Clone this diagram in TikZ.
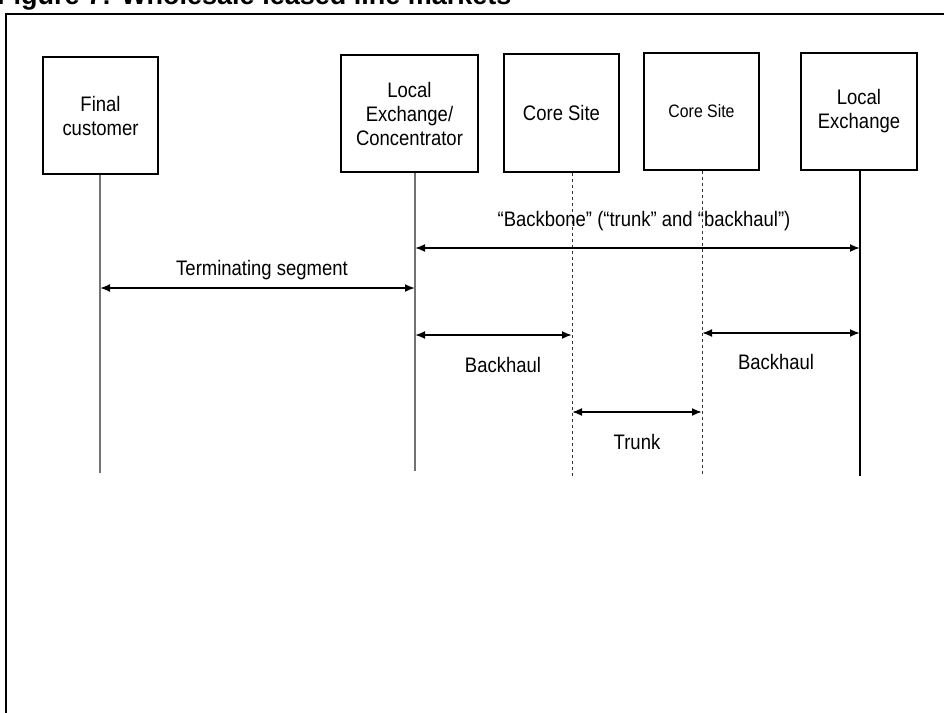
\documentclass[tikz,border=0pt]{standalone}
\usepackage{fontspec}
\setmainfont{Liberation Sans}
\newfontfamily\narrowf[FakeStretch=0.88]{Liberation Sans}
\usetikzlibrary{arrows.meta}
\begin{document}
\begin{tikzpicture}[x=1pt,y=-1pt,
  box/.style={draw=black,line width=1.4pt,minimum width=115pt,minimum height=117pt,inner sep=0pt,align=center,font=\narrowf\fontsize{21}{24}\selectfont},
  vline/.style={line width=1.1pt,draw=black!55},
  vlineb/.style={line width=1.1pt,draw=black},
  dotline/.style={line width=0.9pt,draw=black!80,dash pattern=on 3pt off 3pt},
  arr/.style={line width=1.8pt,{Latex[length=10pt,width=8pt]}-{Latex[length=10pt,width=8pt]}},
  lbl/.style={font=\narrowf\fontsize{21}{24}\selectfont,inner sep=0pt}]
\useasboundingbox (0,0) rectangle (944,712);
% title (cut off at top, as in the reference)
\node[anchor=base west,inner sep=0pt,font=\bfseries\fontsize{27}{27}\selectfont] (title) at (-3,5) {Figure 7: Wholesale leased line markets};
% frame
\draw[line width=1.6pt] (6,714) -- (6,14) -- (946,14);
% boxes
\node[box,minimum width=115pt,minimum height=117pt] (fc) at (100.5,115.5) {Final\\customer};
\node[box,minimum width=137pt,minimum height=117pt] (lec) at (409.5,113.5) {Local\\Exchange/\\Concentrator};
\node[box,minimum width=115pt,minimum height=118pt] (cs1) at (561.5,113) {Core Site};
\node[box,minimum width=115pt,minimum height=117pt,font=\narrowf\fontsize{18}{22}\selectfont] (cs2) at (701.5,111.5) {Core Site};
\node[box,minimum width=116pt,minimum height=117pt] (le) at (859,111.5) {Local\\Exchange};
% bottom ends of the vertical lines
\coordinate (fcb) at (100,473);
\coordinate (lecb) at (415,471);
\coordinate (cs1b) at (572,477);
\coordinate (cs2b) at (702,476);
\coordinate (leb) at (860,476);
\draw[vline] (fcb |- fc.south) -- (fcb);
\draw[vline] (lecb |- lec.south) -- (lecb);
\draw[dotline] (cs1b |- cs1.south) -- (cs1b);
\draw[dotline] (cs2b |- cs2.south) -- (cs2b);
\draw[vlineb] (leb |- le.south) -- (leb);
% arrows
\draw[arr] (lecb |- 0,248) -- (leb |- 0,248);
\node[lbl] (bblbl) at (644,221) {“Backbone” (“trunk” and “backhaul”)};
\draw[arr] (fcb |- 0,288) -- (lecb |- 0,288);
\node[lbl] (tslbl) at (262,270) {Terminating segment};
\draw[arr] (lecb |- 0,335) -- (cs1b |- 0,335);
\node[lbl] (bh1) at (503,365) {Backhaul};
\draw[arr] (cs2b |- 0,333) -- (leb |- 0,333);
\node[lbl] (bh2) at (776,362) {Backhaul};
\draw[arr] (cs1b |- 0,412) -- (cs2b |- 0,412);
\node[lbl] (tr) at (637,442) {Trunk};
\end{tikzpicture}
\end{document}
